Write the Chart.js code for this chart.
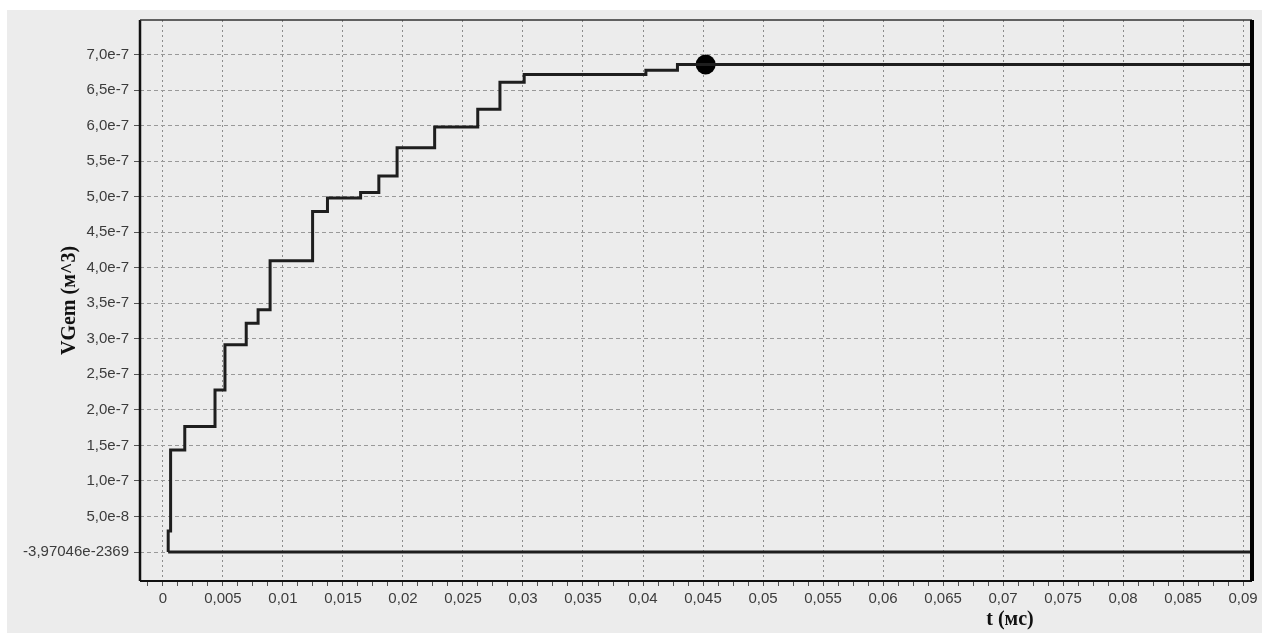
<!DOCTYPE html>
<html>
<head>
<meta charset="utf-8">
<script src="https://cdn.jsdelivr.net/npm/chart.js@4.4.0/dist/chart.umd.min.js"></script>
<style>
  html, body { margin: 0; padding: 0; background: #ffffff; }
  #wrap { width: 1262px; height: 633px; position: relative; }
</style>
</head>
<body>
<div id="wrap"><canvas id="vgemChart" width="1262" height="633"></canvas></div>
<script>
// step curve corners: value holds from t[i] until t[i+1]
const timeMs = [0.00044, 0.00044, 0.00064, 0.00182, 0.00434, 0.00517, 0.00694, 0.00793, 0.00893,
    0.01247, 0.01371, 0.01647, 0.01799, 0.01951, 0.02264, 0.02623, 0.02808, 0.0301, 0.04024, 0.04287, 0.0907];
const vgem = [0, 2.96e-8, 1.437e-7, 1.765e-7, 2.28e-7, 2.916e-7, 3.22e-7, 3.41e-7, 4.10e-7,
    4.79e-7, 4.98e-7, 5.06e-7, 5.29e-7, 5.69e-7, 5.98e-7, 6.23e-7, 6.61e-7, 6.72e-7, 6.78e-7, 6.86e-7, 6.86e-7];

const baseTime = [0.00044, 0.0907];
const baseValue = [0, 0];

const markerTime = [0.04522];
const markerValue = [6.86e-7];

const xTickValues = [0, 0.005, 0.01, 0.015, 0.02, 0.025, 0.03, 0.035, 0.04, 0.045,
    0.05, 0.055, 0.06, 0.065, 0.07, 0.075, 0.08, 0.085, 0.09];
const xTickLabels = ["0", "0,005", "0,01", "0,015", "0,02", "0,025", "0,03", "0,035", "0,04", "0,045",
    "0,05", "0,055", "0,06", "0,065", "0,07", "0,075", "0,08", "0,085", "0,09"];

const yTickValues = [0, 5e-8, 1e-7, 1.5e-7, 2e-7, 2.5e-7, 3e-7, 3.5e-7, 4e-7, 4.5e-7, 5e-7, 5.5e-7, 6e-7, 6.5e-7, 7e-7];
const yTickLabels = ["-3,97046e-2369", "5,0e-8", "1,0e-7", "1,5e-7", "2,0e-7", "2,5e-7", "3,0e-7", "3,5e-7",
    "4,0e-7", "4,5e-7", "5,0e-7", "5,5e-7", "6,0e-7", "6,5e-7", "7,0e-7"];

const xTitle = "t (мс)";
const yTitle = "VGem (м^3)";

const toPoints = (xs, ys) => xs.map((x, i) => ({ x: x, y: ys[i] }));

const findLabel = (values, labels, v) => {
    const i = values.findIndex((t) => Math.abs(t - v) < 1e-12);
    return i === -1 ? "" : labels[i];
};

const bgColor = "#ececec";

const backgroundPlugin = {
    id: "backgroundPlugin",
    beforeDraw: (chart) => {
        const ctx = chart.ctx;
        ctx.save();
        ctx.fillStyle = "#ffffff";
        ctx.fillRect(0, 0, chart.width, chart.height);
        ctx.fillStyle = bgColor;
        ctx.fillRect(7, 10, chart.width - 7, chart.height - 10);
        ctx.restore();
    },
};

const framePlugin = {
    id: "framePlugin",
    afterDraw: (chart) => {
        const a = chart.chartArea;
        const ctx = chart.ctx;
        ctx.save();
        ctx.strokeStyle = "#111111";
        // left
        ctx.lineWidth = 2.5;
        ctx.beginPath(); ctx.moveTo(a.left, a.top); ctx.lineTo(a.left, a.bottom); ctx.stroke();
        // bottom
        ctx.lineWidth = 2;
        ctx.beginPath(); ctx.moveTo(a.left, a.bottom); ctx.lineTo(a.right, a.bottom); ctx.stroke();
        // top
        ctx.lineWidth = 1.5;
        ctx.strokeStyle = "#333333";
        ctx.beginPath(); ctx.moveTo(a.left, a.top); ctx.lineTo(a.right, a.top); ctx.stroke();
        // right
        ctx.lineWidth = 4;
        ctx.strokeStyle = "#000000";
        ctx.beginPath(); ctx.moveTo(a.right, a.top); ctx.lineTo(a.right, a.bottom); ctx.stroke();

        // axis titles
        ctx.fillStyle = "#111111";
        ctx.font = "bold 20px 'Liberation Serif', serif";
        ctx.textAlign = "center";
        ctx.textBaseline = "middle";
        ctx.fillText(xTitle, 1010, 620);
        ctx.translate(70, (a.top + a.bottom) / 2);
        ctx.rotate(-Math.PI / 2);
        ctx.fillText(yTitle, 0, 0);
        ctx.restore();
    },
};

const ctx = document.getElementById("vgemChart").getContext("2d");

window.vgemChart = new Chart(ctx, {
    type: "line",
    data: {
        datasets: [
            {
                data: toPoints(baseTime, baseValue),
                borderColor: "#1e1e1e",
                borderWidth: 3,
                pointRadius: 0,
            },
            {
                data: toPoints(timeMs, vgem),
                borderColor: "#1e1e1e",
                borderWidth: 3,
                stepped: "before",
                pointRadius: 0,
            },
            {
                data: toPoints(markerTime, markerValue),
                showLine: false,
                pointRadius: 10,
                pointBackgroundColor: "#000000",
                pointBorderColor: "#000000",
                borderWidth: 0,
            },
        ],
    },
    options: {
        responsive: false,
        animation: false,
        layout: {
            padding: { left: 0, top: 20, right: 4, bottom: 0 },
        },
        elements: {
            line: { tension: 0 },
        },
        scales: {
            x: {
                type: "linear",
                min: -0.00191,
                max: 0.09074,
                afterFit: (scale) => { scale.height = 52; },
                afterBuildTicks: (scale) => {
                    const ticks = [];
                    for (let k = -1; k <= 72; k++) {
                        const v = k * 0.00125;
                        if (v >= scale.min && v <= scale.max) ticks.push({ value: v });
                    }
                    scale.ticks = ticks;
                },
                ticks: {
                    autoSkip: false,
                    maxRotation: 0,
                    padding: 4,
                    color: "#3c3c3c",
                    font: { family: "'Liberation Sans', Arial, sans-serif", size: 15 },
                    callback: (value) => findLabel(xTickValues, xTickLabels, value),
                },
                grid: {
                    color: (c) => (c.tick && findLabel(xTickValues, xTickLabels, c.tick.value) !== "" ? "#8c8c8c" : "rgba(0,0,0,0)"),
                    lineWidth: 1,
                    tickColor: "#555555",
                    tickLength: 5,
                },
                border: { display: false, dash: [2, 3] },
            },
            y: {
                type: "linear",
                min: -4.08e-8,
                max: 7.486e-7,
                afterFit: (scale) => { scale.width = 140; },
                afterBuildTicks: (scale) => {
                    scale.ticks = yTickValues.map((v) => ({ value: v }));
                },
                ticks: {
                    padding: 5,
                    color: "#3c3c3c",
                    font: { family: "'Liberation Sans', Arial, sans-serif", size: 15 },
                    callback: (value) => findLabel(yTickValues, yTickLabels, value),
                },
                grid: {
                    color: "#999999",
                    lineWidth: 1,
                    tickColor: "#555555",
                    tickLength: 6,
                },
                border: { display: false, dash: [4, 3] },
            },
        },
        plugins: {
            legend: { display: false },
            title: { display: false },
            tooltip: { enabled: false },
        },
    },
    plugins: [backgroundPlugin, framePlugin],
});
</script>
</body>
</html>
